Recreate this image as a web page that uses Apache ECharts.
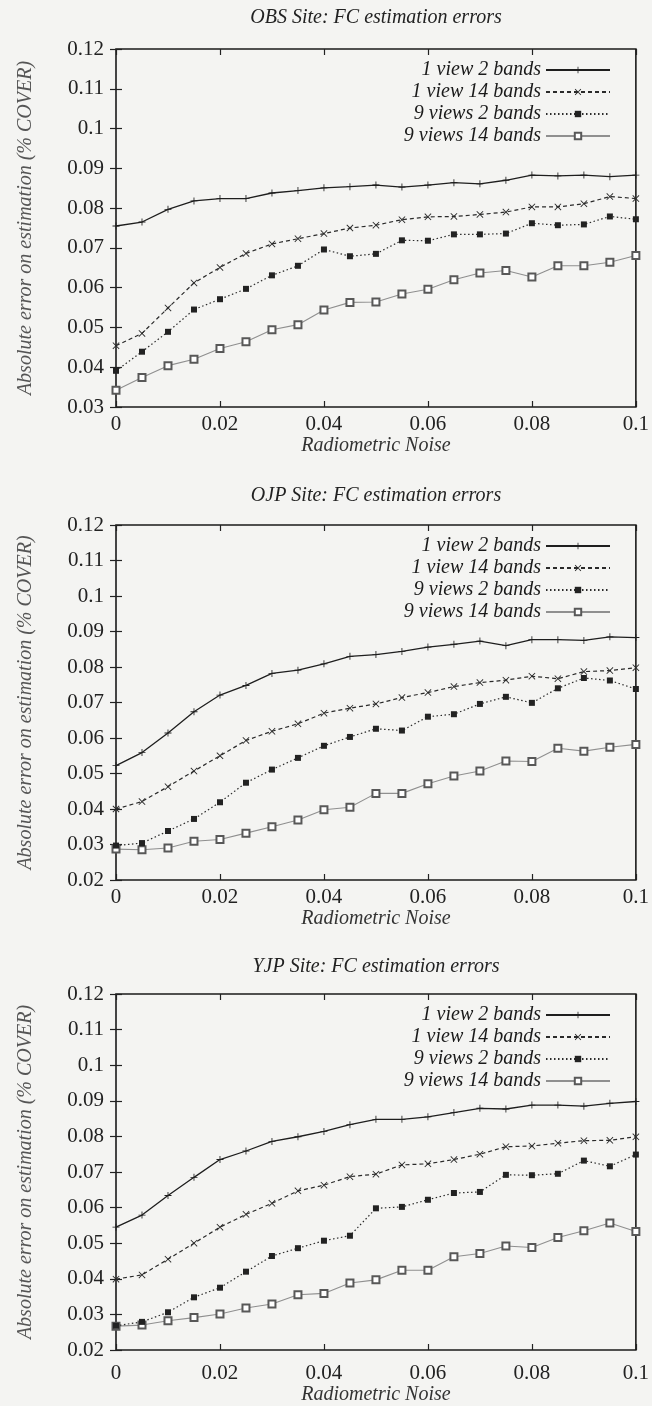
<!DOCTYPE html>
<html>
<head>
<meta charset="utf-8">
<script src="https://cdn.jsdelivr.net/npm/echarts@6/dist/echarts.min.js"></script>
<style>
  html, body { margin: 0; padding: 0; background: #f4f4f2; }
  #chart { width: 652px; height: 1406px; }
</style>
</head>
<body>
<div id="chart"></div>
<script>
// ---------- DATA ----------
const noise = [0, 0.005, 0.01, 0.015, 0.02, 0.025, 0.03, 0.035, 0.04, 0.045, 0.05,
               0.055, 0.06, 0.065, 0.07, 0.075, 0.08, 0.085, 0.09, 0.095, 0.1];
const seriesNames = ['1 view 2 bands', '1 view 14 bands', '9 views 2 bands', '9 views 14 bands'];
const siteTitles = ['OBS Site: FC estimation errors', 'OJP Site: FC estimation errors', 'YJP Site: FC estimation errors'];
const xTitle = 'Radiometric Noise';
const yTitle = 'Absolute error on estimation (% COVER)';
const yMins = [0.03, 0.02, 0.02];
const yMax = 0.12;

const obs1 = [0.0755,0.0765,0.0797,0.0818,0.0824,0.0824,0.0838,0.0844,0.0851,0.0854,0.0858,0.0853,0.0858,0.0864,0.0861,0.0870,0.0883,0.0881,0.0883,0.0879,0.0883];
const obs2 = [0.0454,0.0485,0.0549,0.0612,0.0651,0.0686,0.0710,0.0723,0.0736,0.0750,0.0757,0.0771,0.0778,0.0779,0.0784,0.0790,0.0803,0.0803,0.0811,0.0829,0.0824];
const obs3 = [0.0391,0.0439,0.0489,0.0545,0.0571,0.0597,0.0631,0.0655,0.0696,0.0679,0.0685,0.0719,0.0718,0.0734,0.0734,0.0736,0.0762,0.0757,0.0759,0.0779,0.0772];
const obs4 = [0.0342,0.0374,0.0404,0.0420,0.0447,0.0464,0.0494,0.0507,0.0544,0.0563,0.0564,0.0584,0.0596,0.0620,0.0637,0.0643,0.0627,0.0655,0.0655,0.0664,0.0681];

const ojp1 = [0.0522,0.0559,0.0614,0.0674,0.0721,0.0748,0.0782,0.0791,0.0809,0.0830,0.0835,0.0844,0.0856,0.0864,0.0873,0.0860,0.0877,0.0877,0.0875,0.0885,0.0883];
const ojp2 = [0.0400,0.0421,0.0463,0.0507,0.0550,0.0593,0.0619,0.0640,0.0670,0.0684,0.0696,0.0714,0.0728,0.0745,0.0756,0.0763,0.0774,0.0767,0.0787,0.0790,0.0798];
const ojp3 = [0.0297,0.0304,0.0338,0.0372,0.0419,0.0474,0.0511,0.0544,0.0578,0.0603,0.0626,0.0621,0.0660,0.0667,0.0696,0.0716,0.0699,0.0740,0.0769,0.0762,0.0738];
const ojp4 = [0.0287,0.0285,0.0290,0.0309,0.0314,0.0332,0.0350,0.0369,0.0398,0.0405,0.0444,0.0444,0.0471,0.0493,0.0507,0.0535,0.0534,0.0571,0.0563,0.0574,0.0582];

const yjp1 = [0.0545,0.0579,0.0634,0.0685,0.0735,0.0759,0.0786,0.0799,0.0814,0.0833,0.0848,0.0848,0.0855,0.0867,0.0879,0.0877,0.0888,0.0888,0.0885,0.0893,0.0898];
const yjp2 = [0.0399,0.0411,0.0455,0.0500,0.0545,0.0581,0.0612,0.0647,0.0663,0.0687,0.0694,0.0720,0.0723,0.0735,0.0750,0.0771,0.0773,0.0781,0.0788,0.0789,0.0799];
const yjp3 = [0.0268,0.0279,0.0306,0.0348,0.0375,0.0420,0.0464,0.0486,0.0507,0.0521,0.0598,0.0602,0.0622,0.0641,0.0644,0.0692,0.0691,0.0695,0.0732,0.0716,0.0749];
const yjp4 = [0.0267,0.0270,0.0282,0.0291,0.0301,0.0318,0.0329,0.0355,0.0359,0.0388,0.0397,0.0424,0.0424,0.0462,0.0471,0.0492,0.0488,0.0516,0.0535,0.0557,0.0533];

const siteData = [[obs1, obs2, obs3, obs4], [ojp1, ojp2, ojp3, ojp4], [yjp1, yjp2, yjp3, yjp4]];

// ---------- LAYOUT / STYLE ----------
const W = 652;
const gridLeft = 116, gridRight = 16;
const gridTops = [49, 525, 994];
const gridHeights = [358, 355, 357];
const titleCenters = [19, 497, 968];
const labelMargins = [7, 7, 13];
const xNameGaps = [26, 27, 35];
const serif = '"Liberation Serif", "DejaVu Serif", serif';
const FS = 20;

const plusPath = 'path://M4.4,0H5.6V4.4H10V5.6H5.6V10H4.4V5.6H0V4.4H4.4Z';
const crossPath = 'path://M0.9,0L5,4.1L9.1,0L10,0.9L5.9,5L10,9.1L9.1,10L5,5.9L0.9,10L0,9.1L4.1,5L0,0.9Z';

const styles = [
  { line: { color: '#1e1e1e', width: 1.3, type: 'solid' }, symbol: plusPath, size: 7, item: { color: '#1e1e1e' } },
  { line: { color: '#2a2a2a', width: 1.2, type: [4, 3] }, symbol: crossPath, size: 7, item: { color: '#2a2a2a' } },
  { line: { color: '#2a2a2a', width: 1.2, type: [1.5, 2.5] }, symbol: 'rect', size: 6, item: { color: '#222' } },
  { line: { color: '#8f8f8f', width: 1.1, type: 'solid' }, symbol: 'emptyRect', size: 7, item: { color: '#585858', borderColor: '#585858', borderWidth: 1 } }
];

const fmt = v => String(+v.toFixed(3));

const grids = [], xAxes = [], yAxes = [], series = [], legends = [], titles = [];
const plotCenter = gridLeft + (W - gridLeft - gridRight) / 2;

for (let k = 0; k < 3; k++) {
  grids.push({ left: gridLeft, right: gridRight, top: gridTops[k], height: gridHeights[k],
               show: true, borderColor: '#1a1a1a', borderWidth: 1.6, backgroundColor: 'transparent' });
  const tickStyle = { show: true, inside: true, length: 6, lineStyle: { color: '#222', width: 1.2 } };
  xAxes.push({
    type: 'value', gridIndex: k, min: 0, max: 0.1, interval: 0.02, position: 'bottom',
    axisLine: { show: false }, axisTick: tickStyle, splitLine: { show: false },
    axisLabel: { formatter: fmt, fontFamily: serif, fontSize: 21, color: '#222', margin: labelMargins[k] },
    name: xTitle, nameLocation: 'middle', nameGap: xNameGaps[k],
    nameTextStyle: { fontFamily: serif, fontStyle: 'italic', fontSize: FS, color: '#333' }
  });
  xAxes.push({
    type: 'value', gridIndex: k, min: 0, max: 0.1, interval: 0.02, position: 'top',
    axisLine: { show: false }, axisTick: tickStyle, splitLine: { show: false }, axisLabel: { show: false }
  });
  yAxes.push({
    type: 'value', gridIndex: k, min: yMins[k], max: yMax, interval: 0.01, position: 'left',
    axisLine: { show: false }, axisTick: tickStyle, splitLine: { show: false },
    axisLabel: { formatter: fmt, fontFamily: serif, fontSize: 21, color: '#222', margin: 12 },
    name: yTitle, nameLocation: 'middle', nameGap: 80,
    nameTextStyle: { fontFamily: serif, fontStyle: 'italic', fontSize: FS, color: '#555' }
  });
  yAxes.push({
    type: 'value', gridIndex: k, min: yMins[k], max: yMax, interval: 0.01, position: 'right',
    axisLine: { show: false }, axisTick: tickStyle, splitLine: { show: false }, axisLabel: { show: false }
  });

  for (let s = 0; s < 4; s++) {
    const st = styles[s];
    series.push({
      name: seriesNames[s], type: 'line', xAxisIndex: 2 * k, yAxisIndex: 2 * k,
      data: noise.map((x, i) => [x, siteData[k][s][i]]),
      symbol: st.symbol, symbolSize: st.size, showSymbol: true,
      lineStyle: st.line, itemStyle: st.item, z: 10 - s,
      emphasis: { disabled: true }, animation: false
    });
    legends.push({
      data: [seriesNames[s]], orient: 'vertical', right: 41, top: gridTops[k] + 15 + s * 22 - 4,
      align: 'right', itemWidth: 64, itemHeight: 8, padding: 0, selectedMode: false,
      textStyle: { fontFamily: serif, fontStyle: 'italic', fontSize: FS, color: '#1a1a1a' }
    });
  }

  titles.push({
    text: siteTitles[k], left: plotCenter, top: titleCenters[k] - 11, textAlign: 'center', padding: 0,
    textStyle: { fontFamily: serif, fontStyle: 'italic', fontWeight: 'normal', fontSize: FS, color: '#222' }
  });
}

const chart = echarts.init(document.getElementById('chart'), null, { renderer: 'canvas' });
chart.setOption({
  backgroundColor: '#f4f4f2',
  animation: false,
  title: titles, grid: grids, xAxis: xAxes, yAxis: yAxes, series: series, legend: legends
});
</script>
</body>
</html>
